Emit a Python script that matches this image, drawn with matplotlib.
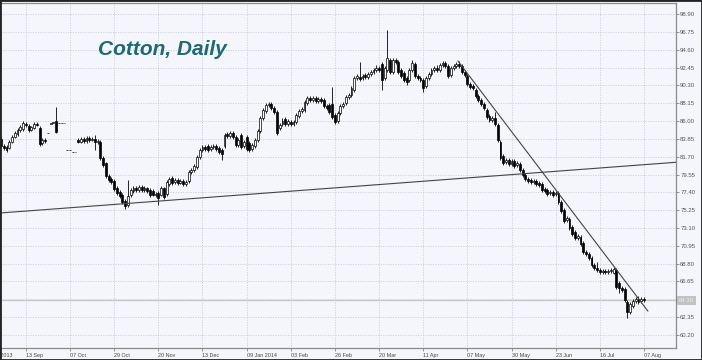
import matplotlib
matplotlib.use("Agg")
import matplotlib.pyplot as plt
import matplotlib.transforms as mtransforms
from matplotlib.patches import Rectangle
import numpy as np

# ---------------- data (daily OHLC) ----------------
opens = [
    83.83, 82.99, 82.87, 82.75, 83.47, 84.07, 84.44, 84.92, 85.04, 85.64,
    85.40, 84.92, 85.16, 85.64, 85.16, 83.35, 83.71, 84.58, 85.64, 85.76,
    86.00, 85.78, 85.75, 85.77, 82.52, 82.49, 82.27, 82.24, 83.71, 83.47,
    83.83, 83.59, 83.95, 83.71, 83.83, 83.47, 83.47, 81.54, 80.94, 79.37,
    79.01, 78.77, 77.92, 77.44, 77.08, 76.36, 75.88, 77.08, 77.56, 77.92,
    77.68, 78.05, 77.68, 77.92, 77.68, 77.56, 77.08, 77.32, 77.08, 77.92,
    77.20, 78.41, 79.13, 78.65, 78.89, 78.53, 78.77, 78.41, 78.77, 79.85,
    80.09, 80.46, 81.66, 82.50, 82.87, 82.99, 82.63, 82.87, 82.99, 82.75,
    82.50, 82.99, 84.44, 84.19, 84.56, 84.07, 83.11, 84.31, 82.99, 84.07,
    83.35, 82.63, 82.99, 83.71, 84.80, 86.36, 87.21, 87.93, 88.05, 87.57,
    87.09, 85.16, 85.64, 86.24, 85.64, 85.88, 85.64, 85.88, 86.60, 87.21,
    87.33, 88.17, 88.78, 88.53, 88.78, 88.41, 88.65, 88.53, 87.81, 87.93,
    88.05, 86.72, 86.00, 86.97, 87.81, 88.17, 88.90, 89.14, 89.74, 91.19,
    91.31, 91.19, 91.55, 91.31, 91.67, 91.91, 92.15, 92.39, 92.87, 91.19,
    92.15, 93.35, 91.91, 93.35, 93.11, 92.15, 91.79, 91.19, 90.94, 92.15,
    92.87, 91.43, 91.19, 90.94, 90.22, 91.19, 91.67, 92.15, 92.39, 92.15,
    92.75, 92.99, 92.63, 91.55, 92.39, 92.63, 92.87, 92.63, 91.91, 91.43,
    90.46, 90.22, 89.74, 89.02, 88.53, 88.05, 87.33, 86.60, 86.12, 86.36,
    85.52, 83.47, 81.78, 81.06, 81.30, 80.82, 81.18, 80.70, 80.82, 80.09,
    79.49, 79.01, 78.89, 78.65, 78.77, 78.53, 78.41, 77.80, 77.68, 77.32,
    77.44, 77.20, 77.32, 76.24, 75.27, 74.07, 74.19, 73.22, 72.62, 71.90,
    72.02, 71.29, 70.21, 69.97, 69.49, 68.64, 68.28, 68.04, 67.80, 67.92,
    67.80, 67.92, 67.68, 68.04, 66.47, 65.87, 65.75, 64.18, 62.98, 63.70,
    64.30, 64.54, 64.30, 64.54,
]
closes = [
    82.99, 82.75, 82.50, 83.47, 84.07, 84.56, 84.92, 85.28, 85.76, 85.52,
    84.92, 85.28, 85.64, 85.52, 83.23, 83.71, 83.59, 84.55, 85.76, 85.88,
    84.68, 85.75, 85.77, 85.74, 82.49, 82.51, 82.24, 82.26, 83.47, 83.83,
    83.59, 83.95, 83.71, 83.83, 83.47, 83.59, 81.54, 80.70, 79.37, 78.89,
    78.65, 77.80, 77.32, 76.96, 76.24, 75.75, 76.96, 77.68, 77.92, 77.68,
    78.05, 77.68, 77.92, 77.56, 77.08, 77.08, 77.20, 76.72, 77.92, 76.84,
    78.65, 79.01, 78.53, 78.89, 78.53, 78.77, 78.41, 78.65, 79.85, 80.09,
    80.58, 81.66, 82.50, 82.87, 82.63, 82.50, 82.87, 82.99, 82.63, 82.26,
    82.02, 84.31, 84.19, 84.56, 84.07, 83.11, 83.71, 82.87, 83.47, 82.63,
    82.50, 83.11, 83.71, 84.80, 86.36, 87.33, 87.93, 88.05, 87.57, 87.09,
    84.56, 85.52, 86.00, 85.64, 86.00, 85.64, 85.88, 86.72, 87.21, 87.45,
    88.29, 88.78, 88.53, 88.78, 88.41, 88.65, 88.41, 87.81, 87.57, 87.09,
    86.48, 85.88, 86.97, 87.81, 88.05, 88.90, 89.14, 89.98, 91.19, 91.43,
    91.07, 91.43, 91.31, 91.67, 91.91, 92.15, 92.39, 92.15, 90.94, 92.39,
    93.59, 91.91, 93.35, 93.11, 91.91, 91.43, 90.94, 90.70, 92.15, 92.99,
    91.43, 91.19, 90.94, 89.98, 91.19, 91.67, 92.15, 92.39, 92.15, 92.75,
    92.99, 92.63, 91.43, 92.39, 92.63, 92.87, 92.63, 91.91, 91.55, 90.46,
    90.10, 89.98, 89.02, 88.53, 88.05, 87.57, 86.48, 86.12, 86.36, 85.64,
    83.71, 81.54, 80.94, 81.30, 80.82, 81.18, 80.58, 80.94, 80.09, 79.49,
    79.01, 78.77, 78.65, 78.77, 78.41, 78.29, 77.68, 77.56, 77.20, 77.44,
    77.08, 77.32, 76.24, 75.15, 73.95, 74.31, 73.10, 72.38, 71.90, 72.14,
    71.17, 70.21, 69.97, 69.49, 68.64, 68.28, 68.04, 67.80, 67.92, 67.80,
    67.92, 68.04, 68.16, 65.99, 65.87, 65.63, 64.42, 62.98, 63.94, 64.30,
    64.54, 64.18, 64.54, 64.38,
]
highs = [
    84.10, 83.25, 83.05, 83.70, 84.30, 84.75, 85.20, 85.50, 86.00, 85.90,
    85.60, 85.45, 85.90, 85.85, 85.35, 83.95, 83.90, 84.60, 85.80, 85.92,
    87.69, 85.78, 85.77, 85.77, 82.52, 82.51, 82.27, 82.26, 84.00, 84.05,
    84.10, 84.15, 84.20, 84.05, 84.31, 83.85, 83.70, 81.75, 81.10, 79.60,
    79.25, 79.00, 78.15, 77.70, 77.30, 76.55, 78.89, 77.95, 78.20, 78.15,
    78.30, 78.30, 78.15, 78.10, 77.90, 77.80, 77.45, 77.55, 78.15, 78.10,
    78.90, 79.25, 79.35, 79.10, 79.10, 79.00, 78.95, 78.85, 80.05, 80.35,
    80.80, 81.90, 82.75, 83.10, 83.10, 83.20, 83.10, 83.25, 83.20, 82.95,
    82.70, 84.55, 84.70, 84.80, 84.75, 84.30, 84.00, 84.55, 83.75, 84.30,
    83.60, 83.35, 83.95, 85.05, 86.60, 87.60, 88.20, 88.35, 88.30, 87.80,
    87.30, 85.80, 86.35, 86.50, 86.25, 86.15, 86.10, 87.00, 87.50, 87.75,
    88.55, 89.05, 89.00, 89.05, 89.00, 88.90, 88.90, 88.75, 88.05, 88.20,
    90.10, 86.95, 87.20, 88.05, 88.30, 89.15, 89.40, 90.25, 91.45, 91.70,
    93.11, 91.70, 91.80, 91.95, 92.20, 92.45, 92.70, 92.65, 93.10, 92.65,
    96.97, 93.60, 93.65, 93.65, 93.35, 92.40, 92.05, 91.45, 92.40, 93.30,
    93.10, 91.70, 91.45, 91.20, 91.45, 91.95, 92.40, 92.65, 92.70, 93.00,
    93.25, 93.20, 92.85, 92.65, 92.90, 93.10, 93.20, 92.85, 92.15, 91.65,
    90.70, 90.45, 89.95, 89.25, 88.75, 88.25, 87.55, 86.85, 86.60, 87.09,
    85.75, 83.70, 82.00, 81.55, 81.55, 81.45, 81.40, 81.20, 81.05, 80.30,
    79.70, 79.25, 79.10, 79.00, 79.00, 78.75, 78.65, 78.05, 77.90, 77.70,
    77.65, 77.55, 77.55, 76.45, 75.50, 74.55, 74.40, 73.45, 72.85, 72.40,
    72.25, 71.50, 70.45, 70.20, 69.70, 68.90, 69.00, 68.25, 68.15, 68.15,
    68.15, 68.25, 68.40, 68.25, 66.70, 66.10, 65.95, 64.40, 64.20, 64.55,
    64.80, 64.85, 64.80, 64.75,
]
lows = [
    82.80, 82.55, 82.30, 82.60, 83.30, 83.90, 84.25, 84.70, 84.85, 85.30,
    84.70, 84.75, 85.00, 85.35, 83.00, 83.10, 83.40, 84.53, 85.60, 85.72,
    84.50, 85.75, 85.75, 85.74, 82.49, 82.49, 82.24, 82.24, 83.30, 83.30,
    83.40, 83.40, 83.50, 83.55, 82.50, 83.25, 81.35, 80.45, 79.15, 78.65,
    78.40, 77.60, 77.10, 76.75, 76.00, 75.39, 75.65, 76.85, 77.35, 77.45,
    77.45, 77.50, 77.45, 77.35, 76.85, 76.90, 76.85, 75.88, 76.90, 76.60,
    77.00, 78.20, 78.30, 78.45, 78.30, 78.35, 78.20, 78.20, 78.55, 79.65,
    79.90, 80.25, 81.45, 82.30, 82.40, 82.30, 82.40, 82.65, 82.40, 82.05,
    81.30, 82.80, 83.95, 83.95, 83.85, 82.90, 82.90, 82.65, 82.75, 82.40,
    82.25, 82.40, 82.75, 83.50, 84.60, 86.15, 87.00, 87.70, 87.35, 86.85,
    84.31, 84.90, 85.40, 85.40, 85.40, 85.40, 85.40, 85.65, 86.40, 86.95,
    87.10, 87.95, 88.30, 88.30, 88.20, 88.20, 88.20, 87.60, 87.30, 86.85,
    86.25, 85.65, 85.75, 86.75, 87.55, 87.95, 88.65, 88.90, 89.50, 90.90,
    90.80, 90.95, 91.05, 91.05, 91.40, 91.65, 91.90, 91.90, 89.74, 90.95,
    91.90, 91.65, 91.65, 92.85, 91.65, 91.15, 90.70, 90.40, 90.70, 91.90,
    91.20, 90.95, 90.70, 89.50, 90.00, 90.95, 91.45, 91.90, 91.90, 91.90,
    92.50, 92.40, 91.20, 91.30, 92.15, 92.40, 92.40, 91.70, 91.30, 90.25,
    89.85, 89.75, 88.80, 88.30, 87.80, 87.35, 86.25, 85.90, 85.90, 85.40,
    83.50, 81.30, 80.70, 80.80, 80.60, 80.60, 80.35, 80.45, 79.85, 79.25,
    78.80, 78.55, 78.40, 78.45, 78.20, 78.05, 77.45, 77.30, 76.95, 77.10,
    76.85, 76.95, 76.00, 74.90, 73.70, 73.85, 72.85, 72.15, 71.65, 71.70,
    70.95, 69.95, 69.75, 69.25, 68.40, 68.05, 67.80, 67.60, 67.60, 67.60,
    67.60, 67.70, 67.50, 65.75, 65.30, 65.40, 64.20, 62.25, 62.75, 63.45,
    64.05, 63.95, 64.10, 64.15,
]

x_labels = ["21 Aug 2013", "13 Sep", "07 Oct", "29 Oct", "20 Nov", "13 Dec",
            "09 Jan 2014", "03 Feb", "26 Feb", "20 Mar", "11 Apr", "07 May",
            "30 May", "23 Jun", "16 Jul", "07 Aug"]
first_label_bar = -7
bars_per_label = 16

y_ticks = [60.20, 62.35, 64.50, 66.65, 68.80, 70.95, 73.10, 75.25, 77.40, 79.55,
           81.70, 83.85, 86.00, 88.15, 90.30, 92.45, 94.60, 96.75, 98.90]

# trend lines: (bar, price) anchor points
support_line = [(45, 76.04), (200, 79.91)]
resistance_line = [(165.6, 93.23), (234.4, 63.09)]
last_price = 64.38

title = "Cotton, Daily"

# ---------------- drawing ----------------
W, H = 702, 360
bg = "#f5f6fc"
fig = plt.figure(figsize=(W / 100, H / 100), dpi=100, facecolor=bg)
ax = fig.add_axes([0.0, 12 / H, 676 / W, (348 - 3) / H])
ax.set_facecolor(bg)

o = np.array(opens); c = np.array(closes); h = np.array(highs); l = np.array(lows)
idx = np.arange(len(c))
bull = c >= o

ax.vlines(idx, l, h, color="black", linewidth=0.6, zorder=3)
bottoms = np.minimum(o, c)
heights = np.maximum(np.abs(c - o), 0.02)
ax.bar(idx, heights, bottom=bottoms, width=0.68,
       color=np.where(bull, "white", "black"), edgecolor="black",
       linewidth=0.5, zorder=4)

# last price line
ax.axhline(last_price, color="#c8c8c8", linewidth=1.0, zorder=2)

# trend lines
ax.axline(support_line[0], support_line[1], color="#444444", linewidth=0.8, zorder=5)
ax.plot([p[0] for p in resistance_line], [p[1] for p in resistance_line],
        color="#444444", linewidth=0.8, zorder=5)

# y axis on the right
ax.yaxis.tick_right()
ax.set_yticks(y_ticks)
ax.set_yticklabels([f"{v:.2f}" for v in y_ticks], fontfamily="Liberation Sans")
ax.tick_params(axis="y", labelsize=4.3, length=2, width=0.6, color="#888888",
               labelcolor="#555555", pad=1)

xt = [first_label_bar + bars_per_label * k for k in range(len(x_labels))]
ax.set_xticks(xt)
ax.set_xticklabels(x_labels, fontfamily="Liberation Sans", ha="left")
ax.tick_params(axis="x", labelsize=3.9, length=2, width=0.6, color="#888888",
               labelcolor="#444444", pad=1.5)

# limits after ticks (set_xticks would otherwise widen the view)
ax.set_xlim(-0.36, 244.6)
ax.set_ylim(58.63, 100.23)

# the first date label lies left of the view: draw it so its tail shows
xlab_trans = mtransforms.blended_transform_factory(ax.transData, ax.transAxes)
ax.text(xt[0], 0, x_labels[0], transform=xlab_trans
        + mtransforms.ScaledTranslation(0, -3.4 / 72, fig.dpi_scale_trans),
        ha="left", va="top", fontsize=3.9, fontfamily="Liberation Sans",
        color="#444444", clip_on=False)

ax.grid(True, color="#c9ccd6", linestyle=(0, (1.5, 1.5)), linewidth=0.6, zorder=0)
ax.set_axisbelow(True)

for s in ["top", "right", "bottom"]:
    ax.spines[s].set_color("#8a8a8a")
    ax.spines[s].set_linewidth(0.9)
ax.spines["left"].set_visible(False)

# price box on axis
trans = mtransforms.blended_transform_factory(ax.transAxes, ax.transData)
ax.text(1.004, last_price, f"{last_price:.2f}", transform=trans, ha="left",
        va="center", fontsize=4.3, fontfamily="Liberation Sans", color="#eeeeee",
        bbox=dict(boxstyle="square,pad=0.35", fc="#c2c2c2", ec="none"),
        clip_on=False, zorder=10)

# title
fig.text(98 / W, 1 - 55 / H, title, fontfamily="Liberation Sans",
         fontweight="bold", fontstyle="italic", fontsize=15, color="#1d6a73",
         va="baseline", ha="left")

# outer border
fig.add_artist(Rectangle((0, 0), 1, 1, transform=fig.transFigure, fill=False,
                         edgecolor="#222222", linewidth=2))

fig.savefig("out.png", dpi=100, facecolor=bg)
